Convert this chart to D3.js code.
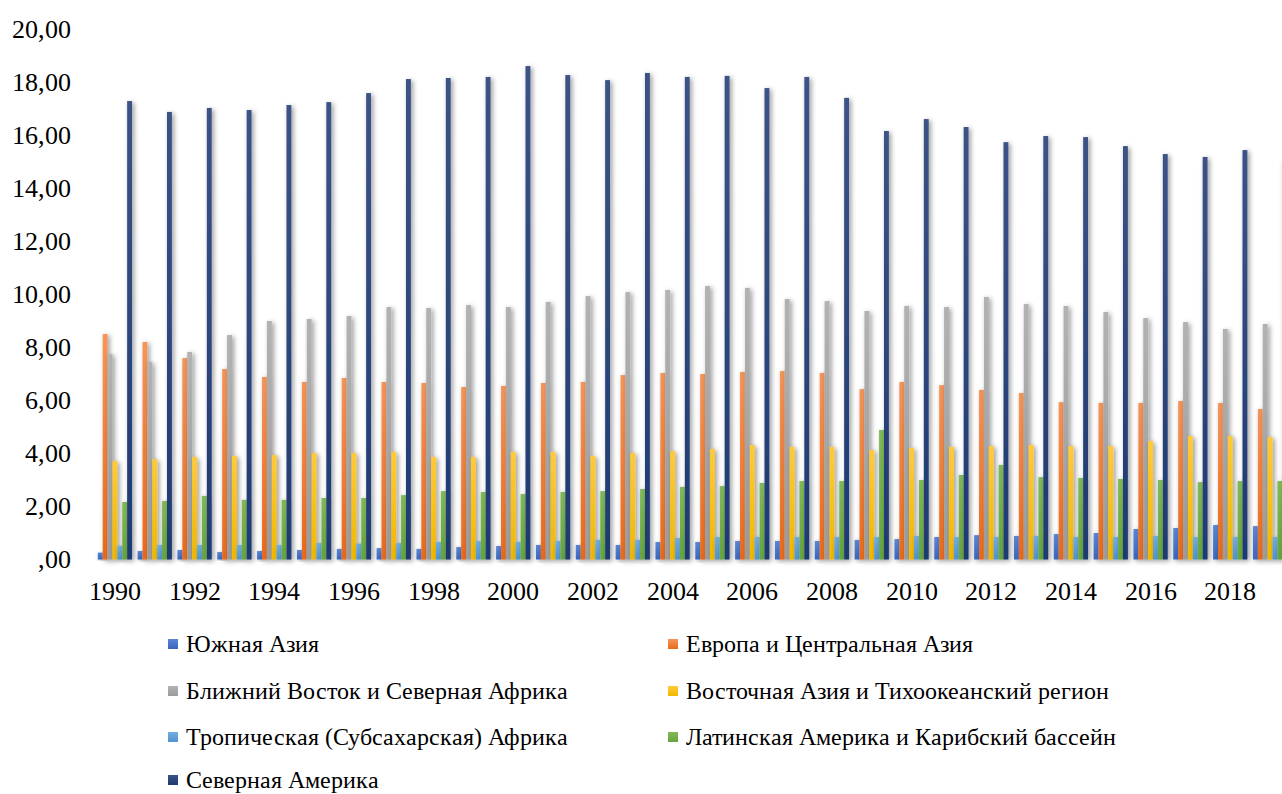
<!DOCTYPE html>
<html>
<head>
<meta charset="utf-8">
<script src="https://cdn.jsdelivr.net/npm/d3@7"></script>
<style>
  @font-face {
    font-family: "ChartSerif";
    src: local("Liberation Serif"), local("LiberationSerif"), local("LiberationSerif-Regular"), local("Liberation Serif Regular");
  }
  html, body { margin: 0; padding: 0; background: #fff; }
  .serif-label { font-family: "ChartSerif", "Liberation Serif" !important; }
</style>
</head>
<body>
<svg id="emissions" width="1282" height="794"></svg>
<script>
// Years on the category axis
const years = [1990,1991,1992,1993,1994,1995,1996,1997,1998,1999,
               2000,2001,2002,2003,2004,2005,2006,2007,2008,2009,
               2010,2011,2012,2013,2014,2015,2016,2017,2018,2019];
const yearTickLabels = [1990,1992,1994,1996,1998,2000,2002,2004,2006,2008,2010,2012,2014,2016,2018];
const valueTicks = [0,2,4,6,8,10,12,14,16,18,20];

// Region names (legend order)
const seriesNames = [
  "Южная Азия",
  "Европа и Центральная Азия",
  "Ближний Восток и Северная Африка",
  "Восточная Азия и Тихоокеанский регион",
  "Тропическая (Субсахарская) Африка",
  "Латинская Америка и Карибский бассейн",
  "Северная Америка"
];

// Values per region, 1990–2019
const southAsia = [0.26,0.32,0.36,0.28,0.32,0.36,0.40,0.43,0.40,0.47,0.51,0.55,0.55,0.55,0.66,0.66,0.70,0.70,0.70,0.74,0.77,0.85,0.92,0.89,0.96,1.00,1.15,1.19,1.30,1.26];
const europeCentralAsia = [8.51,8.21,7.60,7.19,6.89,6.70,6.85,6.70,6.66,6.51,6.55,6.66,6.70,6.96,7.04,7.00,7.08,7.11,7.04,6.43,6.70,6.58,6.40,6.28,5.94,5.91,5.91,5.98,5.91,5.68];
const middleEastNorthAfrica = [7.75,7.45,7.83,8.47,9.00,9.08,9.19,9.53,9.49,9.60,9.53,9.72,9.94,10.09,10.17,10.32,10.25,9.83,9.75,9.38,9.57,9.53,9.91,9.64,9.57,9.34,9.11,8.96,8.70,8.89];
const eastAsiaPacific = [3.72,3.79,3.87,3.91,3.94,4.02,4.02,4.06,3.87,3.87,4.06,4.06,3.91,4.02,4.09,4.17,4.32,4.25,4.25,4.13,4.21,4.25,4.28,4.32,4.28,4.28,4.47,4.66,4.66,4.62];
const subSaharanAfrica = [0.52,0.55,0.55,0.55,0.55,0.62,0.60,0.62,0.66,0.70,0.66,0.70,0.74,0.74,0.81,0.85,0.85,0.85,0.85,0.85,0.89,0.85,0.85,0.89,0.85,0.85,0.89,0.85,0.85,0.85];
const latinAmericaCaribbean = [2.17,2.21,2.40,2.25,2.25,2.32,2.32,2.43,2.58,2.55,2.47,2.55,2.58,2.66,2.74,2.77,2.89,2.96,2.96,4.89,3.00,3.19,3.57,3.11,3.08,3.04,3.00,2.92,2.96,2.96];
const northAmerica = [17.30,16.89,17.04,16.96,17.15,17.26,17.60,18.13,18.17,18.21,18.62,18.28,18.09,18.36,18.21,18.25,17.79,18.21,17.42,16.17,16.62,16.32,15.75,15.98,15.94,15.60,15.30,15.19,15.45,15.08];

const seriesValues = [southAsia, europeCentralAsia, middleEastNorthAfrica, eastAsiaPacific,
                      subSaharanAfrica, latinAmericaCaribbean, northAmerica];

// Fill colours: [top, bottom] of each bar's gradient
const seriesColors = [
  ["#5B86D6", "#3A66BC"],
  ["#F5955A", "#E86A1C"],
  ["#B2B2B2", "#9C9C9C"],
  ["#FFCA3A", "#F0B800"],
  ["#74AEE2", "#4E93D2"],
  ["#80BA58", "#66A53C"],
  ["#3C5286", "#1E3A72"]
];

const setFont = (sel, size) => sel
  .classed("serif-label", true)
  .attr("font-size", size);

const svg = d3.select("#emissions");
const defs = svg.append("defs");

// soft drop shadow used on bars
const shadow = defs.append("filter").attr("id", "barShadow")
  .attr("x", "-150%").attr("y", "-10%").attr("width", "400%").attr("height", "130%");
shadow.append("feDropShadow").attr("dx", 2).attr("dy", 1.5)
  .attr("stdDeviation", 2.6).attr("flood-color", "#000").attr("flood-opacity", 0.42);

const lineShadow = defs.append("filter").attr("id", "lineShadow")
  .attr("x", "-5%").attr("y", "-300%").attr("width", "110%").attr("height", "700%");
lineShadow.append("feDropShadow").attr("dx", 0).attr("dy", 1)
  .attr("stdDeviation", 1.2).attr("flood-color", "#000").attr("flood-opacity", 0.22);

seriesColors.forEach((c, i) => {
  const g = defs.append("linearGradient").attr("id", "grad" + i)
    .attr("x1", 0).attr("y1", 0).attr("x2", 0).attr("y2", 1);
  g.append("stop").attr("offset", "0%").attr("stop-color", c[0]);
  g.append("stop").attr("offset", "100%").attr("stop-color", c[1]);
});

const plotLeft = 95, plotRight = 1290;
const y = d3.scaleLinear().domain([0, 20]).range([559.5, 29.5]);
const x = d3.scaleBand().domain(years).range([plotLeft, plotRight])
  .paddingInner(0.14).paddingOuter(0.07);
const xs = d3.scaleBand().domain(d3.range(seriesNames.length))
  .range([0, x.bandwidth()]).padding(0);

// value axis with gridlines
const fmt = v => v === 0 ? ",00" : v.toFixed(2).replace(".", ",");
const yAxis = svg.append("g").attr("transform", `translate(${plotLeft},0)`)
  .call(d3.axisLeft(y).tickValues(valueTicks).tickFormat(fmt)
    .tickSize(-(1282 - plotLeft)).tickPadding(24));
yAxis.attr("font-family", null).attr("font-size", null);
yAxis.select(".domain").remove();
yAxis.selectAll(".tick line").attr("stroke", "#d4d4d4").attr("stroke-width", 2)
  .attr("filter", "url(#lineShadow)");
setFont(yAxis.selectAll(".tick text"), 26).attr("fill", "#000");
yAxis.selectAll(".tick").filter(d => d === 0).select("line").remove();

// bars
const groups = svg.append("g").selectAll("g")
  .data(years).join("g")
  .attr("transform", d => `translate(${x(d)},0)`);

groups.selectAll("rect")
  .data((d, yi) => seriesValues.map((vals, si) => ({ si, v: vals[yi] })))
  .join("rect")
  .attr("x", d => xs(d.si))
  .attr("width", xs.bandwidth())
  .attr("y", d => y(d.v))
  .attr("height", d => y(0) - y(d.v))
  .attr("fill", d => `url(#grad${d.si})`)
  .attr("filter", "url(#barShadow)");

// category axis line
svg.append("line")
  .attr("x1", plotLeft).attr("x2", 1282)
  .attr("y1", y(0) + 1.5).attr("y2", y(0) + 1.5)
  .attr("stroke", "#c4c4c4").attr("stroke-width", 2.5)
  .attr("filter", "url(#lineShadow)");

const xAxis = svg.append("g").attr("transform", `translate(0,${y(0)})`)
  .call(d3.axisBottom(x).tickValues(yearTickLabels).tickSize(0).tickPadding(22));
xAxis.attr("font-family", null).attr("font-size", null);
xAxis.select(".domain").remove();
setFont(xAxis.selectAll(".tick text"), 26).attr("fill", "#000");

// legend: two columns
const legendCols = [168, 668];
const legendRows = [644, 691, 737, 780];
const legend = svg.append("g").selectAll("g")
  .data(seriesNames).join("g")
  .attr("transform", (d, i) => `translate(${legendCols[i % 2]},${legendRows[Math.floor(i / 2)]})`);
legend.append("rect")
  .attr("x", 0).attr("y", -5).attr("width", 10).attr("height", 10)
  .attr("fill", (d, i) => `url(#grad${i})`);
setFont(legend.append("text")
  .attr("x", 18).attr("y", 0).attr("dy", "0.35em"), 24)
  .attr("fill", "#000")
  .text(d => d);
</script>
</body>
</html>
